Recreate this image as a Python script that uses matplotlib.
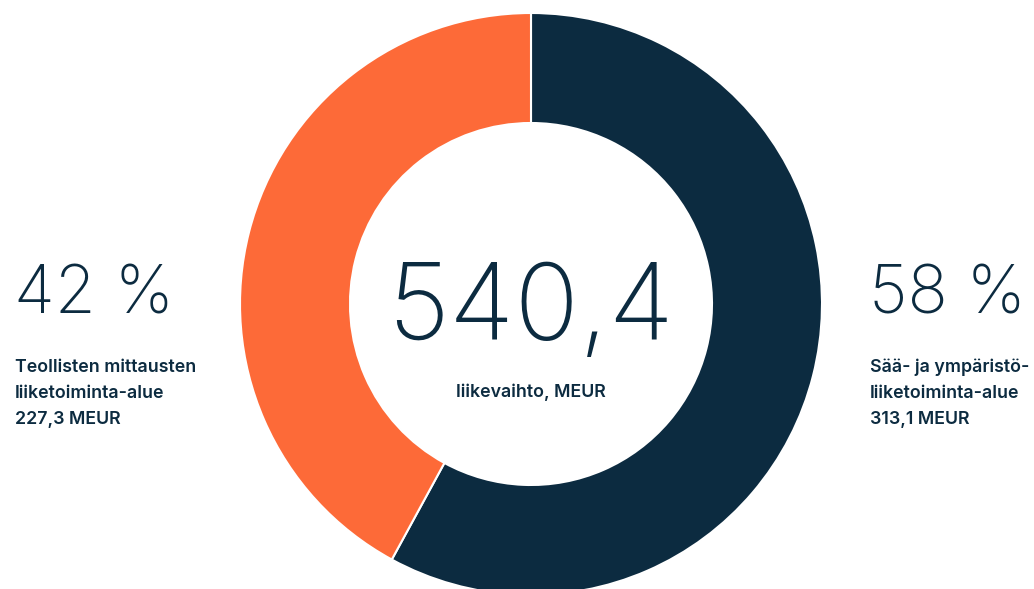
import matplotlib
matplotlib.use('Agg')
import matplotlib.pyplot as plt

# 数据
segments = ['Sää- ja ympäristöliiketoiminta', 'Teollisten mittausten liiketoiminta']
revenue = [313.1, 227.3]
shares = ['58 %', '42 %']
total_label = '540,4'
total_caption = 'liikevaihto, MEUR'
left_lines = ['Teollisten mittausten', 'liiketoiminta-alue', '227,3 MEUR']
right_lines = ['Sää- ja ympäristö-', 'liiketoiminta-alue', '313,1 MEUR']

NAVY = '#0c2b40'
ORANGE = '#fd6a38'
W, H = 1034, 589

fig = plt.figure(figsize=(W / 100, H / 100), dpi=100)
ax = fig.add_axes([0, 0, 1, 1])

# 环形图，中心和半径用像素坐标
ax.pie(revenue, colors=[NAVY, ORANGE], startangle=90, counterclock=False,
       center=(531, H - 304), radius=291,
       wedgeprops=dict(width=110, edgecolor='white', linewidth=1.5))
ax.set_xlim(0, W)
ax.set_ylim(0, H)
ax.set_aspect('equal')
ax.axis('off')

big = dict(family=['Inter', 'DejaVu Sans'], fontweight='light', color=NAVY)
small = dict(family=['Inter', 'DejaVu Sans'], fontweight='semibold', color=NAVY,
             fontsize=12.8)


def y(v):
    return H - v


ax.text(531, y(340), total_label, ha='center', va='baseline', fontsize=77, **big)
ax.text(531, y(397), total_caption, ha='center', va='baseline', **small)

ax.text(14, y(313), shares[1], ha='left', va='baseline', fontsize=48, **big)
ax.text(869, y(313), shares[0], ha='left', va='baseline', fontsize=48, **big)

for i, line in enumerate(left_lines):
    ax.text(15, y(372 + 26 * i), line, ha='left', va='baseline', **small)
for i, line in enumerate(right_lines):
    ax.text(870, y(372 + 26 * i), line, ha='left', va='baseline', **small)

fig.savefig('out.png', dpi=100, facecolor='white')
